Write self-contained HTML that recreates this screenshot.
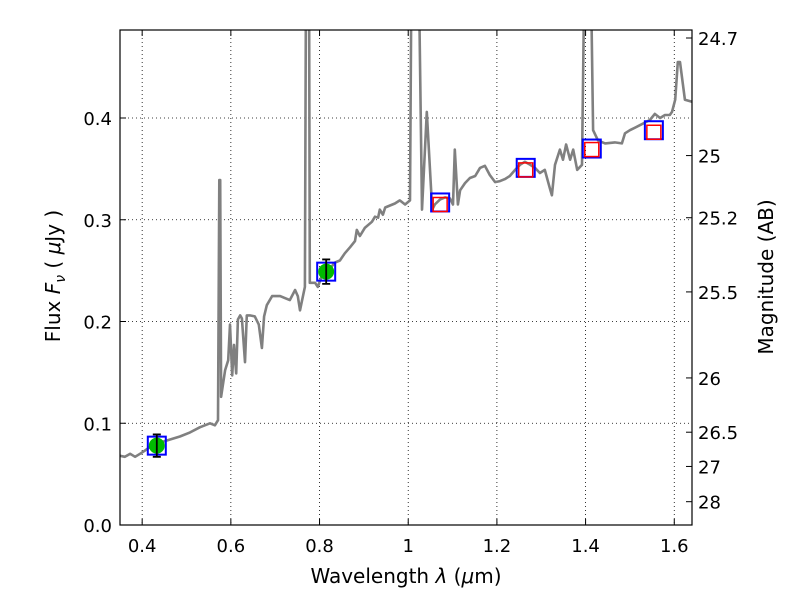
<!DOCTYPE html>
<html><head><meta charset="utf-8"><style>
body{margin:0;background:#fff;}
svg{display:block;font-family:"DejaVu Sans","Liberation Sans",sans-serif;}
</style></head><body>
<svg id="chart" width="800" height="600" viewBox="0 0 800 600">
<g id="grid"></g>
<g id="plot"></g>
<g id="axes"></g>
<text x="406" y="583" font-size="20" text-anchor="middle">Wavelength  <tspan font-style="italic">λ</tspan> (<tspan font-style="italic">μ</tspan>m)</text>
<text transform="translate(60,276) rotate(-90)" font-size="20" text-anchor="middle">Flux  <tspan font-style="italic">F</tspan><tspan font-style="italic" font-size="14" dy="5">ν</tspan><tspan dy="-5">  ( </tspan><tspan font-style="italic">μ</tspan>Jy )</text>
<text transform="translate(773,277) rotate(-90)" font-size="20" text-anchor="middle">Magnitude (AB)</text>
</svg>
<script>
const specLambda=[0.350,0.361,0.373,0.384,0.395,0.406,0.418,0.440,0.463,0.485,0.508,0.530,0.553,0.564,0.571,0.574,0.576,0.578,0.587,0.594,0.598,0.603,0.607,0.612,0.616,0.621,0.625,0.632,0.636,0.643,0.654,0.663,0.670,0.675,0.681,0.693,0.711,0.722,0.733,0.745,0.751,0.756,0.767,0.770,0.772,0.776,0.778,0.781,0.790,0.796,0.806,0.817,0.835,0.846,0.857,0.869,0.880,0.884,0.891,0.902,0.918,0.925,0.932,0.936,0.943,0.948,0.959,0.970,0.981,0.993,1.004,1.008,1.011,1.017,1.022,1.031,1.042,1.054,1.060,1.072,1.083,1.094,1.101,1.105,1.112,1.117,1.128,1.139,1.151,1.162,1.173,1.184,1.196,1.207,1.218,1.229,1.241,1.252,1.263,1.275,1.286,1.297,1.308,1.320,1.324,1.331,1.342,1.349,1.356,1.365,1.372,1.381,1.392,1.399,1.403,1.410,1.417,1.428,1.444,1.466,1.482,1.489,1.500,1.523,1.545,1.556,1.568,1.579,1.590,1.595,1.602,1.608,1.613,1.624,1.640];
const specFlux=[0.068,0.067,0.070,0.067,0.070,0.073,0.077,0.081,0.084,0.087,0.091,0.096,0.100,0.098,0.103,0.339,0.339,0.126,0.152,0.162,0.197,0.147,0.177,0.149,0.202,0.206,0.203,0.160,0.206,0.206,0.205,0.197,0.174,0.205,0.216,0.225,0.225,0.223,0.221,0.231,0.225,0.211,0.234,0.600,0.600,0.600,0.238,0.238,0.238,0.234,0.246,0.249,0.258,0.260,0.267,0.273,0.279,0.290,0.284,0.292,0.298,0.303,0.302,0.310,0.305,0.312,0.314,0.316,0.319,0.315,0.319,0.600,0.600,0.600,0.600,0.310,0.406,0.310,0.315,0.320,0.322,0.321,0.315,0.369,0.315,0.329,0.336,0.341,0.343,0.351,0.353,0.344,0.337,0.338,0.340,0.343,0.349,0.354,0.357,0.354,0.351,0.346,0.349,0.330,0.324,0.354,0.369,0.359,0.374,0.359,0.369,0.349,0.354,0.600,0.600,0.600,0.388,0.378,0.375,0.376,0.375,0.385,0.388,0.393,0.398,0.404,0.400,0.403,0.403,0.406,0.418,0.455,0.455,0.418,0.416,0.415];
const photLambda=[0.433,0.815];
const photFlux=[0.078,0.249];
const photErr=[0.011,0.012];
const modelLambda=[1.072,1.265,1.414,1.554];
const modelFlux=[0.317,0.351,0.370,0.388];
const obsFlux=[0.315,0.349,0.369,0.386];
const xTicks=[0.4,0.6,0.8,1.0,1.2,1.4,1.6];
const xTickLabels=["0.4","0.6","0.8","1","1.2","1.4","1.6"];
const yTicks=[0,0.1,0.2,0.3,0.4];
const yTickLabels=["0.0","0.1","0.2","0.3","0.4"];
const magTicks=[24.7,25,25.2,25.5,26,26.5,27,28];
const magTickLabels=["24.7","25","25.2","25.5","26","26.5","27","28"];

const L=120,R=692,T=30,B=525,XMIN=0.35,XMAX=1.64,YMIN=0,YMAX=0.4865;
const sx=v=>L+(v-XMIN)/(XMAX-XMIN)*(R-L);
const sy=v=>B-(v-YMIN)/(YMAX-YMIN)*(B-T);
const NS="http://www.w3.org/2000/svg";
function mk(parent,tag,attrs){const e=document.createElementNS(NS,tag);for(const k in attrs)e.setAttribute(k,attrs[k]);parent.appendChild(e);return e;}
const svg=document.getElementById('chart');
const grid=document.getElementById('grid'),plot=document.getElementById('plot'),axes=document.getElementById('axes');
const defs=mk(svg,'defs',{});
const cp=mk(defs,'clipPath',{id:'clip'});mk(cp,'rect',{x:L,y:T,width:R-L,height:B-T});
plot.setAttribute('clip-path','url(#clip)');

xTicks.forEach((v,i)=>{
  const g=mk(grid,'line',{x1:sx(v),x2:sx(v),y1:T,y2:B,stroke:'#000','stroke-width':0.8,'stroke-dasharray':'1,3'});
  
  
  mk(axes,'line',{x1:sx(v),x2:sx(v),y1:B,y2:B-6,stroke:'#000'});
  mk(axes,'line',{x1:sx(v),x2:sx(v),y1:T,y2:T+6,stroke:'#000'});
  const t=mk(axes,'text',{x:sx(v),y:B+27,'font-size':18,'text-anchor':'middle'});t.textContent=xTickLabels[i];
  
  
});
yTicks.forEach((v,i)=>{
  if(v>0){const g=mk(grid,'line',{x1:L,x2:R,y1:sy(v),y2:sy(v),stroke:'#000','stroke-width':0.8,'stroke-dasharray':'1,3'});
  
  }
  mk(axes,'line',{x1:L,x2:L+6,y1:sy(v),y2:sy(v),stroke:'#000'});
  const t=mk(axes,'text',{x:L-8,y:sy(v)+7,'font-size':18,'text-anchor':'end'});t.textContent=yTickLabels[i];
  
  
});
magTicks.forEach((m,i)=>{
  const f=Math.pow(10,(23.9-m)/2.5);const y=sy(f);
  mk(axes,'line',{x1:R,x2:R-6,y1:y,y2:y,stroke:'#000'});
  const t=mk(axes,'text',{x:R+6,y:y+7,'font-size':18});t.textContent=magTickLabels[i];
  
  
});
mk(axes,'rect',{x:L,y:T,width:R-L,height:B-T,fill:'none',stroke:'#000','stroke-width':1.2});

const pts=specLambda.map((l,i)=>sx(l).toFixed(1)+','+sy(specFlux[i]).toFixed(1)).join(' ');
const sp=mk(plot,'polyline',{points:pts,fill:'none',stroke:'#808080','stroke-width':2.6,'stroke-linejoin':'round'});



modelLambda.forEach((l,i)=>{
  const x=sx(l);
  const b=mk(plot,'rect',{x:x-9,y:sy(modelFlux[i])-9,width:18,height:18,fill:'none',stroke:'#0000ff','stroke-width':2});
  
  
  const r=mk(plot,'rect',{x:x-7,y:sy(obsFlux[i])-7,width:14,height:14,fill:'none',stroke:'#ff0000','stroke-width':1.5});
  
  
});
photLambda.forEach((l,i)=>{
  const x=sx(l),y=sy(photFlux[i]);
  const b=mk(plot,'rect',{x:x-9,y:y-9,width:18,height:18,fill:'none',stroke:'#0000ff','stroke-width':2});
  
  
  const c=mk(plot,'circle',{cx:x,cy:y,r:8,fill:'#00bb00'});
  
  
  const y1=sy(photFlux[i]+photErr[i]),y2=sy(photFlux[i]-photErr[i]);
  const e=mk(plot,'path',{d:`M${x},${y1}V${y2}M${x-4},${y1}H${x+4}M${x-4},${y2}H${x+4}`,stroke:'#000','stroke-width':1.8,fill:'none'});
  
  
});
</script>
</body></html>
